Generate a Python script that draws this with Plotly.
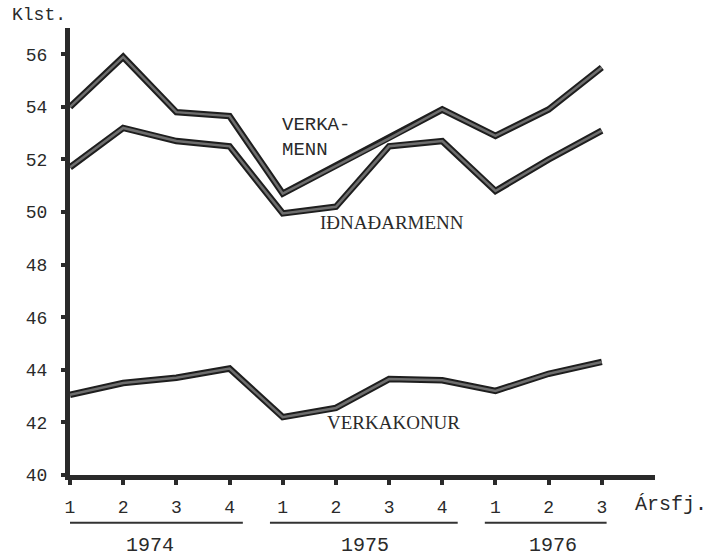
import plotly.graph_objects as go

quarters = ["1", "2", "3", "4", "1", "2", "3", "4", "1", "2", "3"]
years = ["1974", "1975", "1976"]
verkamenn = [54.0, 55.9, 53.8, 53.65, 50.7, 51.75, 52.8, 53.9, 52.9, 53.9, 55.5]
idnadarmenn = [51.7, 53.2, 52.7, 52.5, 49.95, 50.2, 52.5, 52.7, 50.8, 52.0, 53.1]
verkakonur = [43.05, 43.5, 43.7, 44.05, 42.2, 42.55, 43.65, 43.6, 43.2, 43.85, 44.3]

xs = list(range(len(quarters)))
MONO = "Liberation Mono"
SERIF = "Liberation Serif"
INK = "#2a2a2a"

fig = go.Figure()
for series in (verkamenn, idnadarmenn, verkakonur):
    fig.add_trace(go.Scatter(x=xs, y=series, mode="lines",
                             line=dict(color="#1e1e1e", width=6.5),
                             hoverinfo="skip", showlegend=False))
    fig.add_trace(go.Scatter(x=xs, y=series, mode="lines",
                             line=dict(color="#6e6e6e", width=2.5),
                             hoverinfo="skip", showlegend=False))

fig.update_layout(
    width=715, height=557,
    margin=dict(l=70, r=60, t=28, b=82),
    paper_bgcolor="white", plot_bgcolor="white",
    showlegend=False,
    font=dict(family=MONO, color=INK, size=16),
    xaxis=dict(range=[0, 11], tickvals=xs, ticktext=quarters,
               showgrid=False, zeroline=False,
               showline=True, linecolor="#2a2a2a", linewidth=5,
               ticks="outside", ticklen=5, tickwidth=4, tickcolor="#2a2a2a",
               ticklabelstandoff=6,
               tickfont=dict(family=MONO, size=18, color=INK)),
    yaxis=dict(range=[40, 57], tickvals=list(range(40, 57, 2)),
               showgrid=False, zeroline=False,
               showline=True, linecolor="#2a2a2a", linewidth=5,
               ticks="outside", ticklen=4, tickwidth=4, tickcolor="#2a2a2a",
               ticklabelstandoff=10,
               tickfont=dict(family=MONO, size=18, color=INK)),
)

# series labels
labels = [
    ("VERKA-", 3.95, 53.3, MONO, 19),
    ("MENN", 3.95, 52.36, MONO, 19),
    ("IÐNAÐARMENN", 4.66, 49.6, SERIF, 19),
    ("VERKAKONUR", 4.79, 41.98, SERIF, 19),
]
for text, x, y, fam, sz in labels:
    fig.add_annotation(x=x, y=y, xref="x", yref="y", text=text, showarrow=False,
                       xanchor="left", yanchor="middle",
                       font=dict(family=fam, size=sz, color=INK))

# year groups: underline + label
year_spans = [(-0.24, 3.25, 1.5), (3.76, 7.29, 5.55), (7.8, 10.09, 9.08)]
for yr, (x0, x1, xc) in zip(years, year_spans):
    fig.add_shape(type="line", xref="x", yref="paper", x0=x0, x1=x1,
                  y0=-0.107, y1=-0.107, line=dict(color="#333333", width=2))
    fig.add_annotation(x=xc, y=-0.157, xref="x", yref="paper", text=yr,
                       showarrow=False, xanchor="center", yanchor="middle",
                       font=dict(family=MONO, size=20, color=INK))

fig.add_annotation(x=-0.1026, y=1.029, xref="paper", yref="paper", text="Klst.",
                   showarrow=False, xanchor="left", yanchor="middle",
                   font=dict(family=MONO, size=18, color=INK))
fig.add_annotation(x=0.962, y=-0.067, xref="paper", yref="paper", text="Ársfj.",
                   showarrow=False, xanchor="left", yanchor="middle",
                   font=dict(family=MONO, size=20, color=INK))

fig.write_html("out.html",
               config={"displayModeBar": False},
               post_script="document.body.style.margin='0';document.body.style.overflow='hidden';")
